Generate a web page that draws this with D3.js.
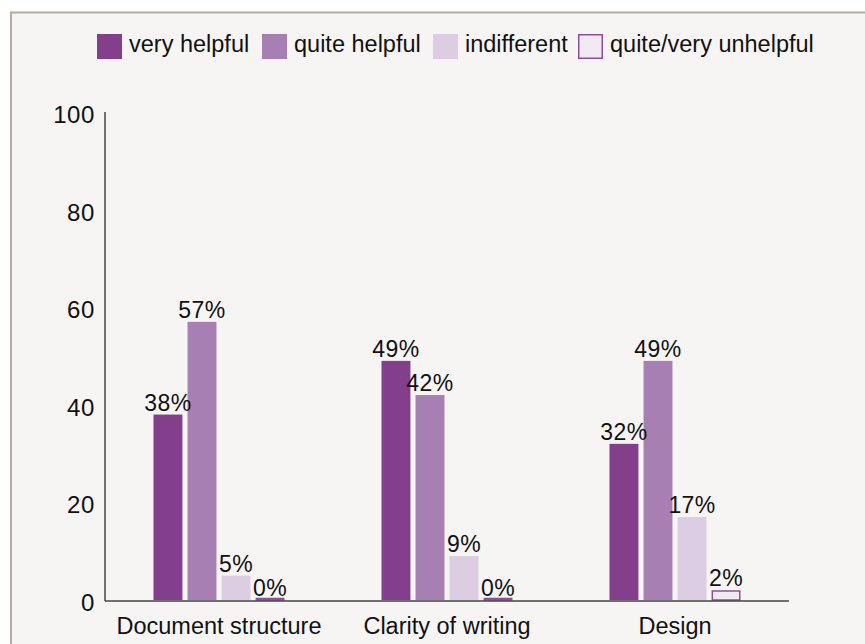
<!DOCTYPE html>
<html>
<head>
<meta charset="utf-8">
<script src="https://cdn.jsdelivr.net/npm/d3@7"></script>
<style>
  body { margin:0; background:#ffffff; }
  svg text { font-family:"Liberation Sans", Arial, sans-serif; fill:#111; }
</style>
</head>
<body>
<div id="chart"></div>
<script>
////////////////////////////////////////////////////
// data
////////////////////////////////////////////////////
var categories = ["Document structure", "Clarity of writing", "Design"];
var seriesNames = ["very helpful", "quite helpful", "indifferent", "quite/very unhelpful"];
var veryHelpful = [38, 49, 32];
var quiteHelpful = [57, 42, 49];
var indifferent = [5, 9, 17];
var unhelpful = [0, 0, 2];
var yTicks = [0, 20, 40, 60, 80, 100];

var seriesValues = [veryHelpful, quiteHelpful, indifferent, unhelpful];
var fills = ["#833f8c", "#a87fb2", "#dccde3", "#f1eaf5"];
var strokes = ["none", "none", "none", "#8d4f99"];

var W = 865, H = 644;

var svg = d3.select("#chart").append("svg")
	.attr("width", W)
	.attr("height", H);

// frame
svg.append("rect")
	.attr("x", 11)
	.attr("y", 12.5)
	.attr("width", W)
	.attr("height", H)
	.attr("fill", "#f6f5f3")
	.attr("stroke", "#b3aaa0")
	.attr("stroke-width", 2);

var x0 = d3.scaleBand()
	.domain(categories)
	.range([105, 789]);

var x1 = d3.scaleBand()
	.domain(seriesNames)
	.range([0, 131])
	.paddingInner(0.15);

var y = d3.scaleLinear()
	.domain([0, 100])
	.range([600, 112]);

var groupOffset = (x0.bandwidth() - 131) / 2;

// y axis labels
svg.append("g").selectAll("text")
	.data(yTicks)
	.enter().append("text")
		.attr("x", 95)
		.attr("y", function(d) { return y(d) + 11; })
		.attr("text-anchor", "end")
		.attr("font-size", 24)
		.attr("letter-spacing", 0.6)
		.text(function(d) { return d; });

// bars
var rows = [];
categories.forEach(function(c, ci) {
	seriesNames.forEach(function(s, si) {
		rows.push({cat: c, series: s, si: si, value: seriesValues[si][ci]});
	});
});

var groups = svg.append("g");

groups.selectAll("rect")
	.data(rows)
	.enter().append("rect")
		.attr("x", function(d) { return x0(d.cat) + groupOffset + x1(d.series) + (d.si == 3 ? 0.75 : 0); })
		.attr("y", function(d) { return d.si == 3 ? Math.min(y(d.value) + 0.75, y(0) - 1.5) : y(d.value); })
		.attr("width", function(d) { return x1.bandwidth() - (d.si == 3 ? 1.5 : 0); })
		.attr("height", function(d) {
			if (d.si == 3) return Math.max(1.5, y(0) - y(d.value) - 0.75);
			return y(0) - y(d.value);
		})
		.attr("fill", function(d) { return fills[d.si]; })
		.attr("stroke", function(d) { return strokes[d.si]; })
		.attr("stroke-width", 1.5);

groups.selectAll("text")
	.data(rows)
	.enter().append("text")
		.attr("x", function(d) { return x0(d.cat) + groupOffset + x1(d.series) + x1.bandwidth() / 2; })
		.attr("y", function(d) { return y(d.value) - 4; })
		.attr("text-anchor", "middle")
		.attr("font-size", 23)
		.attr("letter-spacing", 0.4)
		.text(function(d) { return d.value + "%"; });

// axes lines
svg.append("line")
	.attr("x1", 105).attr("x2", 105)
	.attr("y1", y(100)).attr("y2", y(0) + 1)
	.attr("stroke", "#444").attr("stroke-width", 1.5);
svg.append("line")
	.attr("x1", 105).attr("x2", 789)
	.attr("y1", y(0) + 1).attr("y2", y(0) + 1)
	.attr("stroke", "#444").attr("stroke-width", 1.5);

// category labels
svg.append("g").selectAll("text")
	.data(categories)
	.enter().append("text")
		.attr("x", function(d) { return x0(d) + x0.bandwidth() / 2; })
		.attr("y", 634)
		.attr("text-anchor", "middle")
		.attr("font-size", 23.5)
		.text(function(d) { return d; });

// legend
var legendX = [97, 262, 433, 578];
var legend = svg.append("g").selectAll("g")
	.data(seriesNames)
	.enter().append("g")
		.attr("transform", function(d, i) { return "translate(" + legendX[i] + ",34)"; });

legend.append("rect")
	.attr("x", function(d, i) { return i == 3 ? 0.75 : 0; })
	.attr("y", function(d, i) { return i == 3 ? 0.75 : 0; })
	.attr("width", function(d, i) { return i == 3 ? 23.5 : 25; })
	.attr("height", function(d, i) { return i == 3 ? 23.5 : 25; })
	.attr("fill", function(d, i) { return fills[i]; })
	.attr("stroke", function(d, i) { return strokes[i]; })
	.attr("stroke-width", 1.5);

legend.append("text")
	.attr("x", 32)
	.attr("y", 18)
	.attr("font-size", 23.5)
	.text(function(d) { return d; });
</script>
</body>
</html>
